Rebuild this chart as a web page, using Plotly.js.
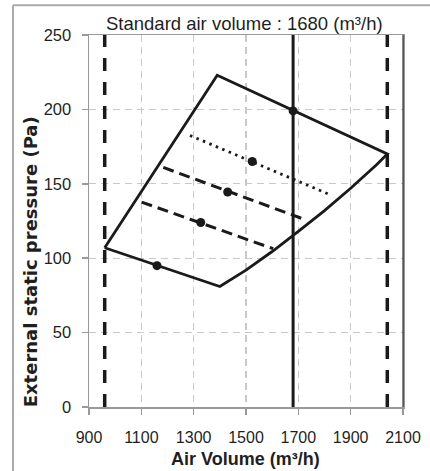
<!DOCTYPE html>
<html>
<head>
<meta charset="utf-8">
<script src="https://cdn.plot.ly/plotly-3.0.1.min.js"></script>
<style>html,body{margin:0;padding:0;background:#fff;}#chart{width:430px;height:471px;}</style>
</head>
<body>
<div id="chart"></div>
<script>
// Outline of the operating range (air volume m3/h, pressure Pa)
const outlineX = [960, 1390, 2040, 2000, 1900, 1800, 1700, 1600, 1500, 1400, 960];
const outlineY = [107, 223, 170, 163, 147, 132, 118, 104.5, 92, 81, 107];
// Points on the outline
const outlineDotX = [1680, 1160];
const outlineDotY = [199, 95];
// Internal lines
const dottedX = [1286, 1827];
const dottedY = [182.5, 142.2];
const dottedDotX = [1524];
const dottedDotY = [165];
const dash1X = [1184, 1732];
const dash1Y = [161, 125.5];
const dash1DotX = [1430];
const dash1DotY = [144.5];
const dash2X = [1101, 1604];
const dash2Y = [137.7, 106.4];
const dash2DotX = [1327];
const dash2DotY = [124];
// Vertical reference lines
const limitMinX = 960;
const limitMaxX = 2040;
const standardX = 1680;
const yRange = [0, 250];
const xTicks = [900, 1100, 1300, 1500, 1700, 1900, 2100];
const yTicks = [0, 50, 100, 150, 200, 250];
const titleText = "Standard air volume : 1680 (m³/h)";
const xTitle = "Air Volume (m³/h)";
const yTitle = "External static pressure (Pa)";

const FONT = "Liberation Sans, Arial, sans-serif";
const BLACK = "#1a1a1a";
const TXT = "#1f1f1f";

function vline(x, dash, w) {
  return {x: [x, x], y: yRange, mode: "lines", line: {color: BLACK, width: w, dash: dash}, hoverinfo: "skip"};
}
const traces = [
  vline(limitMinX, "13px,11px", 3.5),
  vline(limitMaxX, "13px,11px", 3.5),
  vline(standardX, "solid", 3),
  {x: outlineX, y: outlineY, mode: "lines", line: {color: BLACK, width: 2.8}},
  {x: dottedX, y: dottedY, mode: "lines", line: {color: BLACK, width: 2.8, dash: "2.5px,4.5px"}},
  {x: dash1X, y: dash1Y, mode: "lines", line: {color: BLACK, width: 3, dash: "11px,6px"}},
  {x: dash2X, y: dash2Y, mode: "lines", line: {color: BLACK, width: 3, dash: "11px,6px"}},
  {x: outlineDotX.concat(dottedDotX, dash1DotX, dash2DotX), y: outlineDotY.concat(dottedDotY, dash1DotY, dash2DotY),
   mode: "markers", marker: {color: BLACK, size: 9}}
];

const px2x = p => (p - 89) / 314;
const px2y = p => (406.7 - p) / 372;

const layout = {
  width: 430, height: 471,
  margin: {l: 89, r: 27, t: 35, b: 64, pad: 0},
  paper_bgcolor: "#fff", plot_bgcolor: "#fff",
  showlegend: false,
  font: {family: FONT, size: 16, color: TXT},
  xaxis: {
    range: [900, 2100], tickvals: xTicks, ticktext: xTicks.map(String),
    showgrid: true, gridcolor: "#c8c8c8", griddash: "7px,5px", gridwidth: 1.3,
    zeroline: false, showline: true, linecolor: "#999", linewidth: 1.5, mirror: true,
    ticks: "outside", ticklen: 6, tickcolor: "#999", tickwidth: 1.5,
    ticklabelstandoff: 9,
    tickfont: {family: FONT, size: 16, color: TXT}, fixedrange: true
  },
  yaxis: {
    range: yRange, tickvals: yTicks, ticktext: yTicks.map(String),
    showgrid: true, gridcolor: "#c8c8c8", griddash: "7px,5px", gridwidth: 1.3,
    zeroline: false, showline: true, linecolor: "#999", linewidth: 1.5, mirror: true,
    ticks: "outside", ticklen: 6, tickcolor: "#999", tickwidth: 1.5,
    ticklabelstandoff: 7,
    tickfont: {family: FONT, size: 16.5, color: TXT}, fixedrange: true
  },
  shapes: [
    {type: "line", xref: "paper", yref: "paper", x0: 1, x1: 1, y0: 0, y1: 1, line: {color: "#111", width: 1}},
    {type: "line", xref: "paper", yref: "paper", x0: px2x(13), x1: px2x(13), y0: px2y(480), y1: px2y(5), line: {color: "#aaa", width: 2}},
    {type: "line", xref: "paper", yref: "paper", x0: px2x(13), x1: px2x(440), y0: px2y(5), y1: px2y(5), line: {color: "#aaa", width: 2}}
  ],
  annotations: [
    {text: titleText, xref: "paper", yref: "paper", x: px2x(244.5), y: px2y(23), xanchor: "center", yanchor: "middle",
     showarrow: false, font: {family: FONT, size: 18.5, color: TXT}},
    {text: "<b>" + xTitle + "</b>", xref: "paper", yref: "paper", x: px2x(245), y: px2y(459), xanchor: "center", yanchor: "middle",
     showarrow: false, font: {family: FONT, size: 18, color: TXT}},
    {text: "<b>" + yTitle + "</b>", xref: "paper", yref: "paper", x: px2x(30), y: px2y(262), xanchor: "center", yanchor: "middle",
     textangle: -90, showarrow: false, font: {family: "DejaVu Sans, " + FONT, size: 18, color: TXT}}
  ]
};

Plotly.newPlot("chart", traces, layout, {displayModeBar: false, staticPlot: true});
</script>
</body>
</html>
